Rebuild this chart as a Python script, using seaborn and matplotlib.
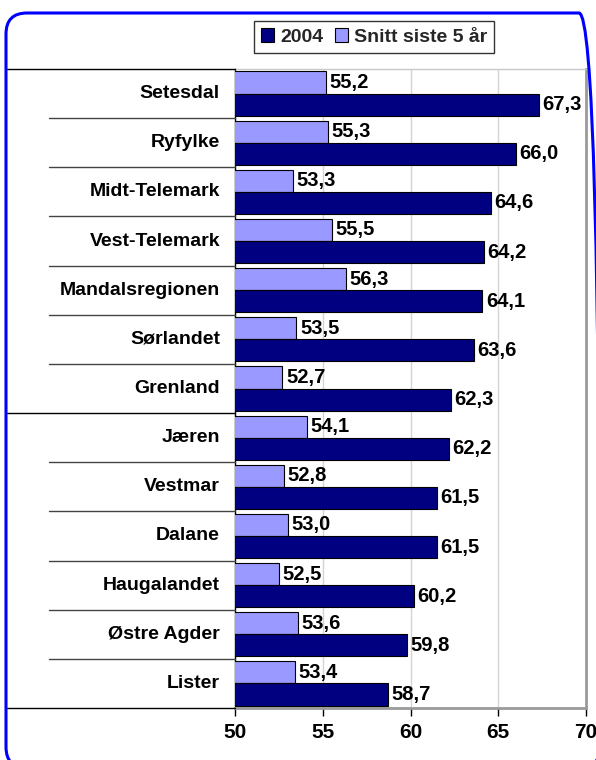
import matplotlib
matplotlib.use("Agg")
import matplotlib.pyplot as plt
import seaborn as sns
import pandas as pd
from matplotlib.patches import FancyBboxPatch, Patch

categories = ["Setesdal", "Ryfylke", "Midt-Telemark", "Vest-Telemark", "Mandalsregionen",
              "Sørlandet", "Grenland", "Jæren", "Vestmar", "Dalane", "Haugalandet",
              "Østre Agder", "Lister"]
values_2004 = [67.3, 66.0, 64.6, 64.2, 64.1, 63.6, 62.3, 62.2, 61.5, 61.5, 60.2, 59.8, 58.7]
values_snitt = [55.2, 55.3, 53.3, 55.5, 56.3, 53.5, 52.7, 54.1, 52.8, 53.0, 52.5, 53.6, 53.4]
series_names = ["2004", "Snitt siste 5 år"]
xticks = [50, 55, 60, 65, 70]

sns.set_theme(style="white")
plt.rcParams['font.family'] = ['Liberation Sans', 'DejaVu Sans']

df = pd.DataFrame({
    "region": categories * 2,
    "verdi": values_snitt + values_2004,
    "serie": [series_names[1]] * len(categories) + [series_names[0]] * len(categories),
})

W, H = 596, 760
fig = plt.figure(figsize=(W / 100, H / 100), dpi=100)
ax = fig.add_axes([235 / W, 1 - 708 / H, (586 - 235) / W, (708 - 69) / H])

colors = {"2004": "#000080", "Snitt siste 5 år": "#9999FF"}
sns.barplot(data=df, y="region", x="verdi", hue="serie",
            hue_order=[series_names[1], series_names[0]], order=categories,
            palette=colors, saturation=1, orient="h", width=0.9, gap=0,
            edgecolor="black", linewidth=0.8, ax=ax, legend=False, zorder=3)

ax.set_xlim(50, 70)
ax.set_ylim(len(categories) - 0.5, -0.5)
ax.set_xticks(xticks)
ax.set_xticklabels([str(t) for t in xticks], fontsize=15, fontweight="bold")
ax.set_xlabel("")
ax.set_ylabel("")
ax.set_yticks([])

# gridlines
for t in xticks[1:-1]:
    ax.axvline(t, color="#d4d4d4", lw=1, zorder=0)

ax.spines["top"].set_color("#c8c8c8")
ax.spines["top"].set_linewidth(1)
ax.spines["right"].set_color("#9a9a9a")
ax.spines["right"].set_linewidth(2)
ax.spines["bottom"].set_color("#9a9a9a")
ax.spines["bottom"].set_linewidth(2)
ax.spines["left"].set_color("black")
ax.spines["left"].set_linewidth(1)
ax.tick_params(axis="x", direction="out", length=6, width=1, color="black",
               pad=5, bottom=True, labelcolor="black")

# category labels
trans = ax.get_yaxis_transform()
for i, c in enumerate(categories):
    ax.text(-15 / 351, i, c, transform=trans, ha="right", va="center",
            fontsize=14, fontweight="bold", color="black")

# category separator lines
short_x = (49 - 235) / 351
long_x = (7 - 235) / 351
for k in range(len(categories) + 1):
    yb = k - 0.5
    x0 = long_x if k in (0, 7, len(categories)) else short_x
    ax.plot([x0, 0], [yb, yb], transform=trans, color="black" if x0 == long_x else "#444444",
            lw=1, clip_on=False, zorder=4)

# value labels
bar_h = 0.45
for i in range(len(categories)):
    for v, off in ((values_snitt[i], -bar_h / 2), (values_2004[i], bar_h / 2)):
        ax.text(v + 0.2, i + off, f"{v:.1f}".replace(".", ","), ha="left", va="center",
                fontsize=14.5, fontweight="bold", color="black", zorder=5)

# legend
handles = [Patch(facecolor=colors[n], edgecolor="black", linewidth=0.8) for n in series_names]
leg = fig.legend(handles, series_names, loc="center", bbox_to_anchor=(374 / W, 1 - 37 / H),
                 ncol=2, frameon=True, fancybox=False, edgecolor="black",
                 prop={"weight": "bold", "size": 14}, handlelength=0.7, handleheight=0.7,
                 handletextpad=0.3, columnspacing=0.6, borderpad=0.35, borderaxespad=0)
leg.get_frame().set_linewidth(1)

# rounded blue border
border = FancyBboxPatch((6 / 100, (H - 768) / 100), (600 - 6) / 100, (768 - 13) / 100,
                        boxstyle="round,pad=0,rounding_size=0.21",
                        transform=fig.dpi_scale_trans, fill=False,
                        edgecolor="#0000FF", linewidth=2.2, clip_on=False)
fig.patches.append(border)

fig.savefig("out.png", dpi=100)
